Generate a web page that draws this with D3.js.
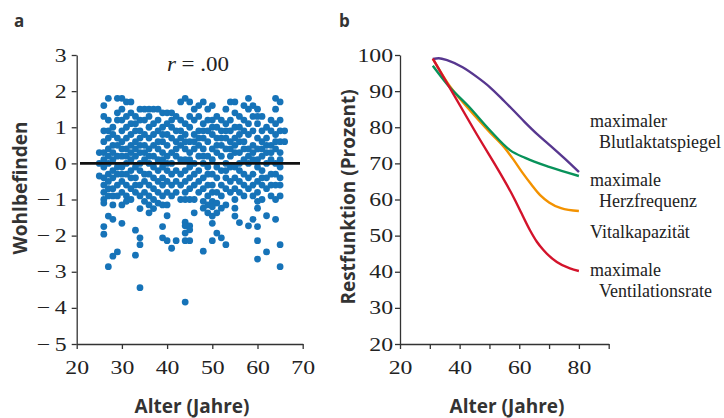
<!DOCTYPE html>
<html><head><meta charset="utf-8">
<script src="https://cdn.jsdelivr.net/npm/d3@7"></script>
<style>body{margin:0;background:#fff} svg{display:block;background:#fff}</style>
</head><body><svg id="c" width="724" height="418"></svg>
<script>
// ---- Panel a: Wohlbefinden by age (age, [values]) ----
const wellbeing25to34 = [
 [25, [0.3, 0.0, -0.35]],
 [26, [1.6, 1.3, 0.9, 0.6, 0.3, 0.1, -0.1, -0.4, -0.6, -0.8, -1.0, -1.1, -1.75, -1.96]],
 [27, [1.8, 1.2, 0.9, 0.7, 0.4, 0.2, 0.0, -0.3, -0.5, -0.7, -0.9, -1.46, -2.86]],
 [28, [1.0, 0.8, 0.5, 0.3, 0.1, -0.2, -0.4, -0.7, -0.9, -1.15, -1.55, -2.57]],
 [29, [1.8, 1.4, 1.2, 0.7, 0.5, 0.2, -0.1, -0.3, -0.6, -0.9, -2.45]],
 [30, [1.8, 1.5, 1.2, 0.9, 0.6, 0.4, 0.2, -0.1, -0.3, -0.5, -0.8, -1.15, -1.66]],
 [31, [1.7, 1.3, 1.0, 0.7, 0.4, 0.2, 0.0, -0.3, -0.6, -0.9, -1.05]],
 [32, [1.7, 1.4, 1.1, 0.8, 0.5, 0.3, 0.1, -0.2, -0.4, -0.7, -1.0]],
 [33, [1.3, 1.1, 0.9, 0.6, 0.4, 0.2, -0.1, -0.4, -0.6, -0.8, -1.85, -2.54]],
 [34, [1.5, 1.2, 0.9, 0.7, 0.5, 0.3, 0.0, -0.2, -0.6, -0.9, -1.25, -2.06, -2.25, -3.44]]
];
const wellbeing35to44 = [
 [35, [1.5, 1.2, 0.8, 0.5, 0.3, 0.1, -0.3, -0.5, -0.8, -1.05]],
 [36, [1.5, 1.3, 1.0, 0.7, 0.4, 0.2, 0.0, -0.3, -0.6, -0.9, -1.15, -1.37]],
 [37, [1.5, 1.1, 0.8, 0.5, 0.2, -0.1, -0.4, -0.7, -1.0, -1.25]],
 [38, [1.5, 1.2, 0.9, 0.6, 0.4, 0.1, -0.2, -0.5, -0.8, -1.1]],
 [39, [1.4, 1.0, 0.8, 0.6, 0.3, 0.1, -0.1, -0.4, -0.6, -0.9, -1.15, -1.75, -2.06]],
 [40, [1.4, 1.1, 0.8, 0.5, 0.2, 0.0, -0.2, -0.5, -0.8, -1.15, -1.45, -2.14]],
 [41, [1.4, 1.2, 1.0, 0.7, 0.3, 0.0, -0.3, -0.6, -0.9, -2.35]],
 [42, [1.3, 0.9, 0.6, 0.4, 0.2, -0.2, -0.5, -0.8, -2.14]],
 [43, [1.7, 1.2, 0.9, 0.7, 0.5, 0.1, -0.3, -0.6, -1.0]],
 [44, [1.8, 1.1, 0.8, 0.6, 0.4, 0.1, -0.2, -0.5, -0.8, -1.0, -1.63, -1.73, -1.93, -2.14, -3.84]]
];
const wellbeing45to54 = [
 [45, [1.7, 1.3, 1.0, 0.6, 0.3, 0.1, -0.1, -0.4, -0.7, -1.0, -1.73, -1.84, -2.14]],
 [46, [1.5, 1.2, 0.8, 0.6, 0.4, 0.0, -0.3, -0.6, -1.0, -1.37]],
 [47, [1.6, 1.3, 0.9, 0.7, 0.5, 0.2, -0.2, -0.5, -0.8]],
 [48, [1.7, 1.1, 0.9, 0.7, 0.4, 0.2, 0.0, -0.4, -0.7, -1.05, -1.24, -2.43]],
 [49, [1.5, 1.2, 0.9, 0.6, 0.2, -0.1, -0.3, -0.6, -0.9, -1.15, -1.37]],
 [50, [1.6, 1.2, 1.0, 0.8, 0.4, 0.1, -0.3, -0.6, -0.8, -1.05, -1.2, -1.46, -1.66, -2.14]],
 [51, [1.3, 1.0, 0.7, 0.5, 0.3, -0.1, -0.4, -0.8, -1.1, -1.37, -1.93]],
 [52, [1.2, 0.9, 0.7, 0.5, 0.2, -0.2, -0.6, -0.9, -1.24, -2.06]],
 [53, [1.5, 1.1, 0.9, 0.7, 0.4, 0.0, -0.2, -0.4, -0.7, -1.15, -2.25]],
 [54, [1.7, 1.2, 0.9, 0.6, 0.4, 0.2, -0.1, -0.5, -0.8]]
];
const wellbeing55to66 = [
 [55, [1.7, 1.4, 1.0, 0.7, 0.5, 0.3, -0.1, -0.4, -0.7, -1.0, -1.24, -1.46]],
 [56, [1.3, 1.0, 0.8, 0.6, 0.3, 0.0, -0.2, -0.5, -0.8, -1.64]],
 [57, [1.6, 1.2, 0.9, 0.6, 0.4, 0.1, -0.3, -0.6, -0.9]],
 [58, [1.8, 1.5, 1.1, 0.8, 0.4, 0.2, 0.0, -0.4, -0.7, -1.73]],
 [59, [1.6, 1.3, 0.9, 0.5, 0.3, 0.1, -0.3, -0.6, -0.9, -1.55]],
 [60, [1.5, 1.3, 1.1, 0.7, 0.4, 0.1, -0.1, -0.5, -0.8, -1.05, -1.24, -1.75, -2.14, -2.65]],
 [61, [1.3, 0.9, 0.6, 0.4, 0.2, -0.2, -0.4, -0.6, -1.0]],
 [62, [1.0, 0.7, 0.5, 0.3, 0.0, -0.4, -0.7, -1.45, -2.45]],
 [63, [1.2, 0.9, 0.5, 0.3, 0.1, -0.3, -0.6, -0.9]],
 [64, [1.8, 1.5, 1.1, 0.8, 0.6, 0.4, 0.0, -0.3, -0.6, -1.0, -1.55]],
 [65, [1.7, 1.2, 0.9, 0.6, 0.3, 0.1, -0.1, -0.4, -0.6, -0.9, -2.25, -2.86]],
 [66, [0.9, 0.6]]
];
const correlationLabel = ".00";
const ageTicksA = [20, 30, 40, 50, 60, 70];
const wellbeingTicks = [-5, -4, -3, -2, -1, 0, 1, 2, 3];

// ---- Panel b: Restfunktion (Prozent) ----
const lactate = [[31,98.9],[33,99.1],[36,98.5],[41,96.6],[46,93.8],[50,91.2],[55,87.2],[58,84.7],[62,81.3],[66,78.1],[70,75.2],[75,71.5],[80,67.6]];
const heartRate = [[31,97],[36,91.7],[43,85.8],[50,79.3],[57,73.6],[62,71.5],[70,69],[80,66.5]];
const vitalCapacity = [[31,99],[36,92.2],[43,85.1],[50,78.7],[55,74.4],[58,71.1],[61,67.5],[64,64.2],[67,61.2],[70,59.2],[74,57.6],[80,56.8]];
const ventilation = [[31,99],[45,79.1],[58.6,59.8],[60.8,56.1],[63.6,51.5],[65.9,48.3],[68.1,46],[72.6,42.7],[77,40.9],[80,40.2]];
const ageTicksB = [20, 30, 40, 50, 60, 70, 80, 90];
const ageLabelsB = [20, 40, 60, 80];
const percentTicks = [20, 30, 40, 50, 60, 70, 80, 90, 100];
const seriesLabels = [
 {lines: ["maximaler", "Blutlaktatspiegel"], y: 127},
 {lines: ["maximale", "Herzfrequenz"], y: 186},
 {lines: ["Vitalkapazität"], y: 238},
 {lines: ["maximale", "Ventilationsrate"], y: 276}
];

const svg = d3.select("#c");
const serif = "'Liberation Serif','DejaVu Serif',serif";
const sans = "'Open Sans','DejaVu Sans',sans-serif";
const axisColor = "#333";
const tickScaleX = 1.25;

function styleAxis(g){
  g.select(".domain").attr("stroke", axisColor).attr("stroke-width", 1.3);
  g.selectAll(".tick line").attr("stroke", axisColor).attr("stroke-width", 1.3);
  g.selectAll(".tick text").attr("fill", "#222")
    .style("font-family", serif).style("font-size", "19px")
    .each(function(){
      const t = d3.select(this);
      const x = +t.attr("x") || 0;
      t.attr("x", 0).attr("transform", `translate(${x},0) scale(${tickScaleX},1)`);
    });
}
const fmtNum = d => d < 0 ? "\u2212\u2009" + Math.abs(d) : String(d);

// Panel a
const xA = d3.scaleLinear([20, 70], [76.7, 302.7]);
const yA = d3.scaleLinear([-5, 3], [344, 55]);
const dotColor = "#1673b8";
const points = [...wellbeing25to34, ...wellbeing35to44, ...wellbeing45to54, ...wellbeing55to66]
  .flatMap(([age, vals]) => vals.map(v => [age, v]));
svg.append("g").selectAll("circle").data(points).join("circle")
  .attr("cx", d => xA(d[0])).attr("cy", d => yA(d[1])).attr("r", 3.4).attr("fill", dotColor);

svg.append("line").attr("x1", 80).attr("x2", 300).attr("y1", yA(0)).attr("y2", yA(0))
  .attr("stroke", "#111").attr("stroke-width", 2.6);

svg.append("g").attr("transform", `translate(0,${yA(-5)})`)
  .call(d3.axisBottom(xA).tickValues(ageTicksA).tickSize(5).tickSizeOuter(0).tickPadding(12))
  .call(styleAxis);
svg.append("g").attr("transform", `translate(${xA(20)},0)`)
  .call(d3.axisLeft(yA).tickValues(wellbeingTicks).tickSize(5).tickSizeOuter(0).tickPadding(5).tickFormat(fmtNum))
  .call(styleAxis);

const rt = svg.append("text").attr("transform", "translate(198,71) scale(1.15,1)").attr("text-anchor", "middle")
  .style("font-family", serif).style("font-size", "20px").attr("fill", "#222");
rt.append("tspan").style("font-style", "italic").text("r");
rt.append("tspan").text(" = " + correlationLabel);

// Panel b
const xB = d3.scaleLinear([20, 90], [400, 608.7]);
const yB = d3.scaleLinear([20, 100], [344, 55]);
const lineGen = d3.line().x(d => xB(d[0])).y(d => yB(d[1])).curve(d3.curveMonotoneX);
const series = [
  {data: vitalCapacity, color: "#f39200"},
  {data: heartRate, color: "#08925a"},
  {data: lactate, color: "#57378f"},
  {data: ventilation, color: "#d3132b"}
];
svg.append("g").selectAll("path").data(series).join("path")
  .attr("d", d => lineGen(d.data)).attr("fill", "none")
  .attr("stroke", d => d.color).attr("stroke-width", 2.4);

svg.append("g").attr("transform", `translate(0,${yB(20)})`)
  .call(d3.axisBottom(xB).tickValues(ageTicksB).tickSize(5).tickSizeOuter(0).tickPadding(12)
    .tickFormat(d => ageLabelsB.includes(d) ? d : ""))
  .call(styleAxis);
svg.append("g").attr("transform", `translate(${xB(20)},0)`)
  .call(d3.axisLeft(yB).tickValues(percentTicks).tickSize(5).tickSizeOuter(0).tickPadding(2))
  .call(styleAxis);

seriesLabels.forEach(s => {
  s.lines.forEach((t, i) => {
    svg.append("text").attr("x", i === 0 ? 590 : 599).attr("y", s.y + i * 21)
      .style("font-family", serif).style("font-size", "18px").attr("fill", "#222").text(t);
  });
});

// Titles
const titleStyle = sel => sel.style("font-family", sans).style("font-weight", "bold").style("font-size", "19px").attr("fill", "#333");
svg.append("text").attr("x", 192).attr("y", 413).attr("text-anchor", "middle").call(titleStyle).text("Alter (Jahre)");
svg.append("text").attr("x", 507).attr("y", 413).attr("text-anchor", "middle").call(titleStyle).text("Alter (Jahre)");
svg.append("text").attr("transform", "translate(27,188) rotate(-90)").attr("text-anchor", "middle").call(titleStyle).text("Wohlbefinden");
svg.append("text").attr("transform", "translate(355,197) rotate(-90)").attr("text-anchor", "middle").call(titleStyle).text("Restfunktion (Prozent)");
svg.append("text").attr("x", 14).attr("y", 27).call(titleStyle).style("font-size", "17px").text("a");
svg.append("text").attr("x", 339).attr("y", 27).call(titleStyle).style("font-size", "17px").text("b");
</script></body></html>
